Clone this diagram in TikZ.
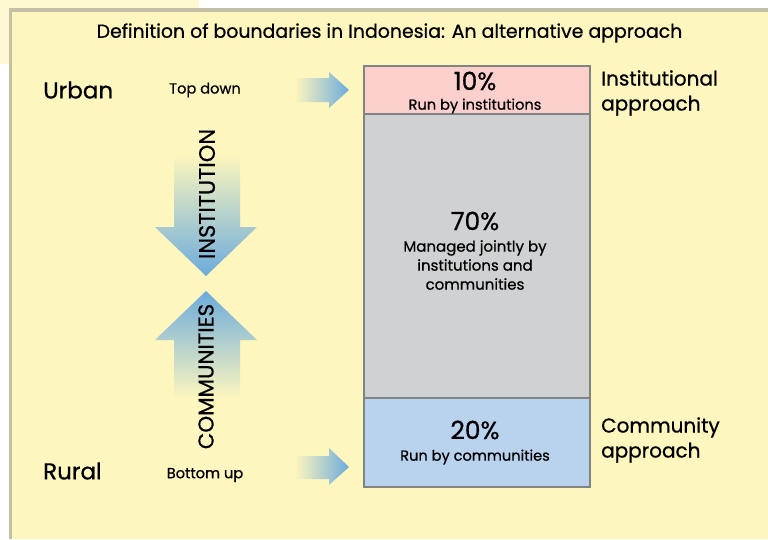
\documentclass[tikz,border=0pt]{standalone}
\usepackage{fontspec}
\setmainfont[FakeBold=0.7]{Poppins}
\definecolor{paper}{HTML}{FDF6BE}
\definecolor{paperb}{HTML}{FEF9D2}
\definecolor{edge}{HTML}{C4C0A6}
\definecolor{arrowblue}{HTML}{6CABDC}
\definecolor{boxpink}{HTML}{FBCFCB}
\definecolor{boxgrey}{HTML}{CFD1D3}
\definecolor{boxblue}{HTML}{B9D3EE}
\definecolor{boxline}{HTML}{808584}
\tikzset{
  x=1pt,y=-1pt,
  band/.style={draw=boxline,line width=1.4pt},
  lbl/.style={inner sep=0pt,text=black,font=\fontsize{#1}{#1}\selectfont},
  side/.style={inner sep=0pt,anchor=west,align=left,text=black,font=\fontsize{20}{25}\selectfont},
  lead/.style={inner sep=0pt,text=black,align=center,font=\fontsize{15}{19}\selectfont},
}
\begin{document}
\begin{tikzpicture}
\useasboundingbox (0,0) rectangle (768,539);
\fill[white] (0,0) rectangle (768,539);
\fill[paperb] (0,0) rectangle (199,64);
\fill[edge] (9,8) rectangle (768,539);
\fill[paper] (12,12) rectangle (768,539);
% gradient arrows
\shade[left color=paper,right color=arrowblue] (295,78) -- (329,78) -- (329,72) -- (349,90) -- (329,108) -- (329,102) -- (295,102) -- cycle;
\shade[left color=paper,right color=arrowblue] (295,456) -- (329,456) -- (329,448) -- (349,467) -- (329,485) -- (329,479) -- (295,479) -- cycle;
\shade[top color=paper,bottom color=arrowblue] (174,155) -- (240,155) -- (240,227) -- (257,227) -- (206,276) -- (155,227) -- (174,227) -- cycle;
\shade[bottom color=paper,top color=arrowblue] (174,398) -- (240,398) -- (240,340) -- (257,340) -- (206,291) -- (155,340) -- (174,340) -- cycle;
% bands
\draw[band,fill=boxpink] (364,66) rectangle (590,114);
\draw[band,fill=boxgrey] (364,114) rectangle (590,398);
\draw[band,fill=boxblue] (364,398) rectangle (590,487);
% text
\node[lbl=18.9] (title) at (389.5,33) {Definition of boundaries in Indonesia: An alternative approach};
\node[lbl=23,anchor=west] (urban) at (43,90) {Urban};
\node[lbl=23,anchor=west] (rural) at (43,471) {Rural};
\node[lbl=14.6] (topdown) at (205,90) {Top down};
\node[lbl=14.6] (bottomup) at (205,475) {Bottom up};
\node[lbl=22.4,rotate=90] (inst) at (207,194) {INSTITUTION};
\node[lbl=21.4,rotate=90] (comm) at (206,376.5) {COMMUNITIES};
\node[lbl=25] (p10) at (475,81) {10\%};
\node[lbl=14.6] (r10) at (475,106) {Run by institutions};
\node[lbl=25] (p70) at (475,221) {70\%};
\node[lead] (r70) at (475,265) {Managed jointly by\\institutions and\\communities};
\node[lbl=25] (p20) at (475,430) {20\%};
\node[lbl=14.6] (r20) at (475,457) {Run by communities};
\node[side] (iapp) at (601,93) {Institutional\\approach};
\node[side] (capp) at (601,440) {Community\\approach};
\end{tikzpicture}
\end{document}
